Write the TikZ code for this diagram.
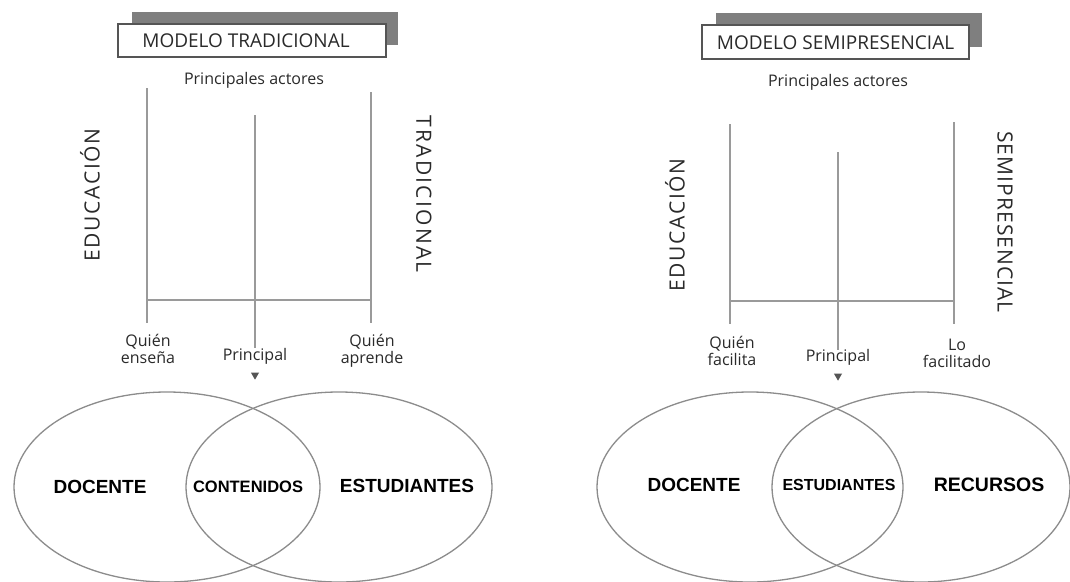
\documentclass[tikz,border=0pt]{standalone}
\usepackage{fontspec}
\setmainfont{Open Sans}
\newfontfamily\boldsans{Liberation Sans}[BoldFont={Liberation Sans Bold}]
\newfontfamily\spacedA[LetterSpace=8]{Open Sans}
\newfontfamily\spacedT[LetterSpace=11]{Open Sans}
\newfontfamily\spacedB[LetterSpace=5]{Open Sans}
\usetikzlibrary{shapes.geometric}
\definecolor{linegray}{HTML}{9A9A9A}
\definecolor{ellgray}{HTML}{8C8C8C}
\definecolor{shadowgray}{HTML}{7F7F7F}
\definecolor{boxgray}{HTML}{555555}
\definecolor{txtgray}{HTML}{2A2A2A}
\begin{document}
\begin{tikzpicture}[x=1pt,y=-1pt,
  stem/.style={draw=linegray,line width=1.8pt},
  titlebox/.style={draw=boxgray,fill=white,line width=1.2pt,inner sep=0pt},
  titletext/.style={font=\fontsize{19}{21}\selectfont,text=txtgray,inner sep=0pt},
  lbl/.style={font=\fontsize{16}{18}\selectfont,text=txtgray,align=center,inner sep=0pt},
  vtext/.style={font=\spacedA\fontsize{21}{24}\selectfont,text=txtgray,inner sep=0pt},
  venn/.style={ellipse,draw=ellgray,line width=1.3pt,minimum width=306pt,minimum height=190pt,inner sep=0pt},
  big/.style={font=\boldsans\bfseries\fontsize{19}{22}\selectfont,inner sep=0pt},
  small/.style={font=\boldsans\bfseries\fontsize{16.5}{20}\selectfont,inner sep=0pt},
  tip/.style={isosceles triangle,isosceles triangle apex angle=60,shape border rotate=-90,fill=boxgray,inner sep=0pt,minimum width=8pt,minimum height=7pt}]
\useasboundingbox (0,0) rectangle (1070,581);
\fill[white] (0,0) rectangle (1070,581);

% ---------------- Left panel ----------------
\fill[shadowgray] (132,12) rectangle (398,45);
\node[titlebox,minimum width=268pt,minimum height=33pt] (t1) at (252,40.5) {};
\node[titletext] (tt1) at (246,41) {MODELO TRADICIONAL};
\node[lbl] (pa1) at (254,80) {Principales actores};

\coordinate (l1t) at (147,88);
\coordinate (l1b) at (147,323);
\coordinate (m1t) at (255,115);
\coordinate (m1b) at (255,348);
\coordinate (r1t) at (371,92);
\coordinate (r1b) at (371,323);
\coordinate (h1l) at (147,300);
\coordinate (h1r) at (371,300);
\draw[stem] (l1t) -- (l1b);
\draw[stem] (m1t) -- (m1b);
\draw[stem] (r1t) -- (r1b);
\draw[stem] (h1l) -- (h1r);

\node[vtext,rotate=90] (ed1) at (90,195) {EDUCACIÓN};
\node[vtext,font=\spacedT\fontsize{21}{24}\selectfont,rotate=-90] (tr1) at (424,194) {TRADICIONAL};

\node[lbl] (q1) at (148,349) {Quién\\[-1pt]enseña};
\node[lbl] (p1) at (255,356) {Principal};
\node[tip] (a1) at (255,375) {};
\node[lbl] (q2) at (372,351) {Quién\\[-1pt]aprende};

\node[venn] (e1) at (167,487) {};
\node[venn] (e2) at (339,487) {};
\node[big] (d1) at (100,487) {DOCENTE};
\node[small] (c1) at (248,487) {CONTENIDOS};
\node[big] (s1) at (407,486) {ESTUDIANTES};

% ---------------- Right panel ----------------
\fill[shadowgray] (716,13) rectangle (982,47);
\node[titlebox,minimum width=267pt,minimum height=34pt] (t2) at (835.5,42) {};
\node[titletext] (tt2) at (835.5,42.5) {MODELO SEMIPRESENCIAL};
\node[lbl] (pa2) at (838,82) {Principales actores};

\coordinate (l2t) at (730,124);
\coordinate (l2b) at (730,324);
\coordinate (m2t) at (838,152);
\coordinate (m2b) at (838,350);
\coordinate (r2t) at (954,122);
\coordinate (r2b) at (954,324);
\coordinate (h2l) at (730,301);
\coordinate (h2r) at (954,301);
\draw[stem] (l2t) -- (l2b);
\draw[stem] (m2t) -- (m2b);
\draw[stem] (r2t) -- (r2b);
\draw[stem] (h2l) -- (h2r);

\node[vtext,rotate=90] (ed2) at (675,225) {EDUCACIÓN};
\node[vtext,font=\spacedB\fontsize{21}{24}\selectfont,rotate=-90] (se2) at (1005,222) {SEMIPRESENCIAL};

\node[lbl] (q3) at (732,351) {Quién\\[-1pt]facilita};
\node[lbl] (p2) at (838,357) {Principal};
\node[tip] (a2) at (838,376) {};
\node[lbl] (q4) at (957,353) {Lo\\[-1pt]facilitado};

\node[venn] (e3) at (750,487) {};
\node[venn,minimum width=298pt] (e4) at (921,487) {};
\node[big] (d2) at (694,485) {DOCENTE};
\node[small,font=\boldsans\bfseries\fontsize{16}{20}\selectfont] (s2) at (839,485) {ESTUDIANTES};
\node[big,font=\boldsans\bfseries\fontsize{19.5}{22}\selectfont] (r2) at (989,485) {RECURSOS};
\end{tikzpicture}
\end{document}
